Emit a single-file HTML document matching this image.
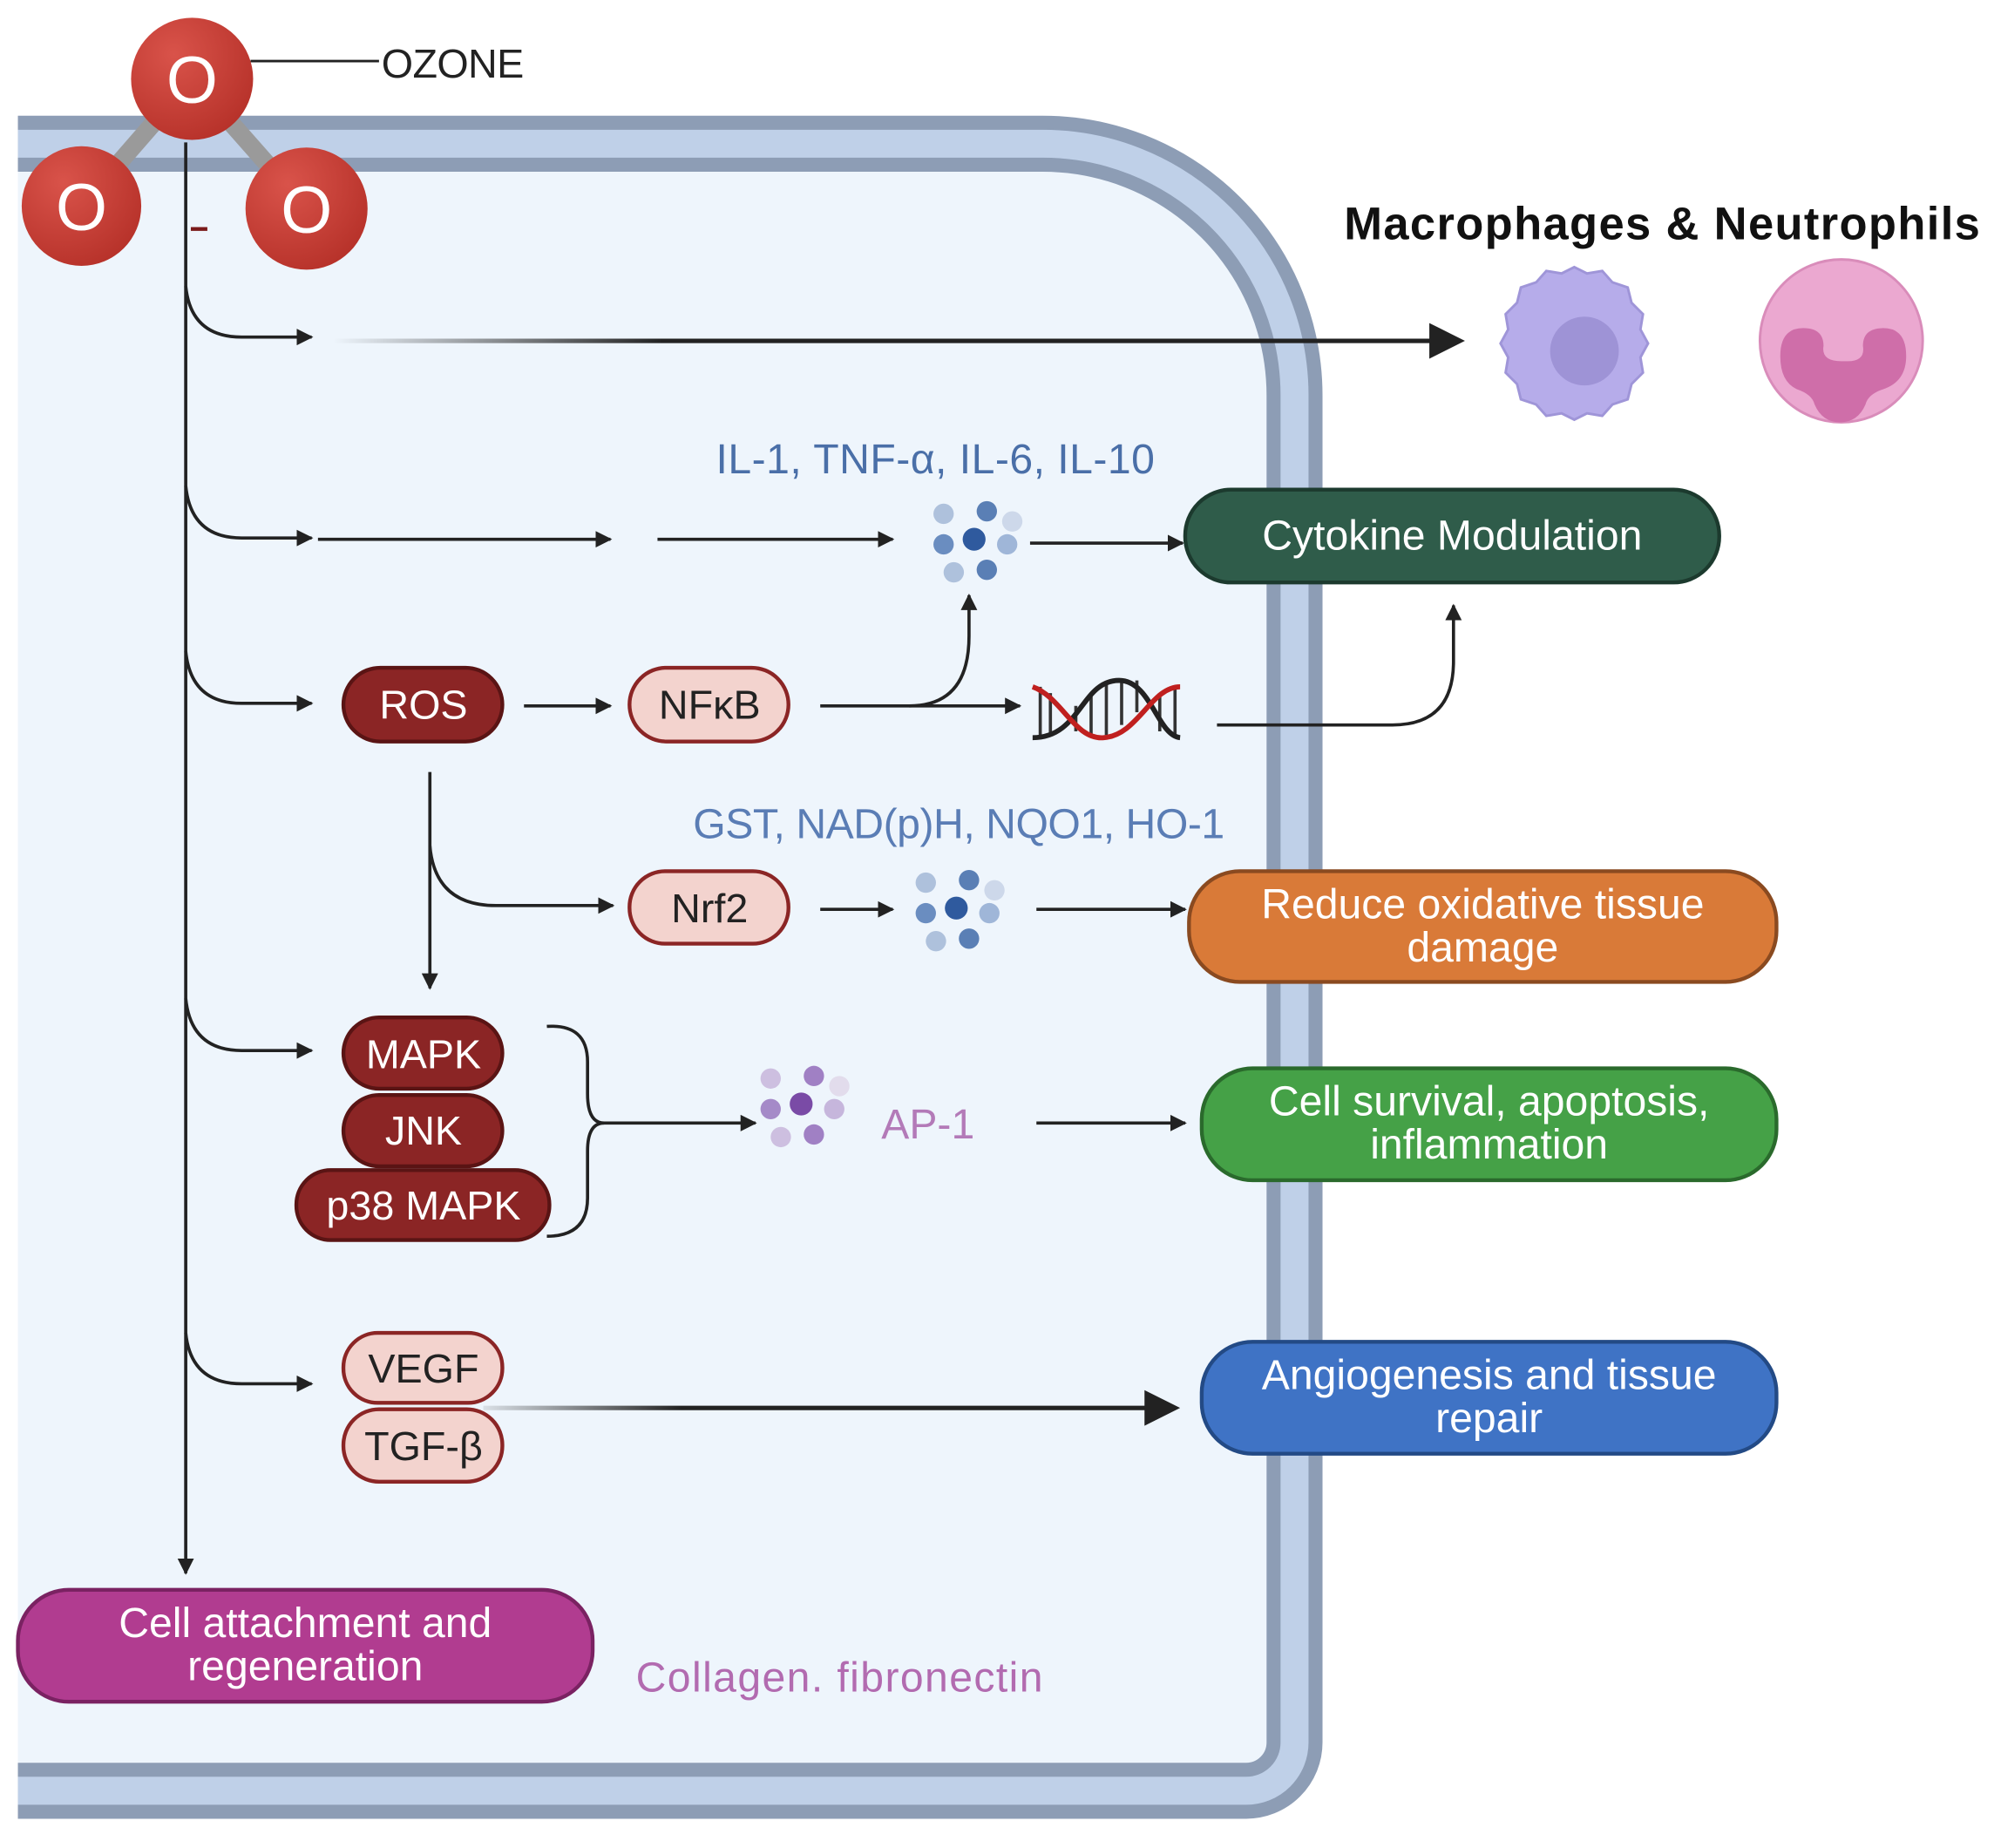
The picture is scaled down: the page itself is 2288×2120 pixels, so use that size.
<!DOCTYPE html>
<html><head><meta charset="utf-8"><style>
html,body{margin:0;padding:0;background:#fff;}
svg{display:block;}
text{font-family:"Liberation Sans",sans-serif;}
</style></head><body>
<svg width="2288" height="2120" viewBox="0 0 1568 1453" xmlns="http://www.w3.org/2000/svg">
<defs>
<marker id="ah" viewBox="0 0 10 10" refX="9" refY="5" markerWidth="13" markerHeight="13" orient="auto" markerUnits="userSpaceOnUse"><path d="M0,0 L10,5 L0,10 z" fill="#222"/></marker>
<linearGradient id="fade1" gradientUnits="userSpaceOnUse" x1="262" y1="0" x2="1125" y2="0"><stop offset="0" stop-color="#222" stop-opacity="0"/><stop offset="0.3" stop-color="#222"/><stop offset="1" stop-color="#222"/></linearGradient>
<linearGradient id="fade2" gradientUnits="userSpaceOnUse" x1="380" y1="0" x2="900" y2="0"><stop offset="0" stop-color="#222" stop-opacity="0.1"/><stop offset="0.3" stop-color="#222"/><stop offset="1" stop-color="#222"/></linearGradient>
<radialGradient id="ball" cx="0.35" cy="0.3" r="0.75"><stop offset="0" stop-color="#d9534a"/><stop offset="1" stop-color="#b7322a"/></radialGradient>
</defs>
<rect width="1568" height="1453" fill="#fff"/>
<path d="M14 113 H820 A198 198 0 0 1 1018 311 V1370 A38 38 0 0 1 980 1408 H14 Z" fill="#eef5fc"/>
<path d="M14 113 H820 A198 198 0 0 1 1018 311 V1370 A38 38 0 0 1 980 1408 H14" fill="none" stroke="#8d9db5" stroke-width="44"/>
<path d="M14 113 H820 A198 198 0 0 1 1018 311 V1370 A38 38 0 0 1 980 1408 H14" fill="none" stroke="#bfd0e8" stroke-width="22"/>

<line x1="151" y1="62" x2="64" y2="162" stroke="#9a9a9a" stroke-width="14"/>
<line x1="151" y1="62" x2="241" y2="164" stroke="#9a9a9a" stroke-width="14"/>
<line x1="197" y1="48" x2="298" y2="48" stroke="#222" stroke-width="2"/>
<text x="300" y="61" font-size="32" fill="#222" textLength="112">OZONE</text>
<g font-size="52" fill="#fff" text-anchor="middle">
<circle cx="151" cy="62" r="48" fill="url(#ball)"/><text x="151" y="81">O</text>
<circle cx="64" cy="162" r="47" fill="url(#ball)"/><text x="64" y="181">O</text>
<circle cx="241" cy="164" r="48" fill="url(#ball)"/><text x="241" y="183">O</text>
</g>
<line x1="150" y1="180" x2="163" y2="180" stroke="#7a1a1a" stroke-width="3"/>

<g fill="none" stroke="#222" stroke-width="2.5">
<line x1="146" y1="112" x2="146" y2="1237" marker-end="url(#ah)"/>
<path d="M146 225 Q150 265 190 265 H245" marker-end="url(#ah)"/>
<path d="M146 382 Q150 423 190 423 H245" marker-end="url(#ah)"/>
<path d="M146 512 Q150 553 190 553 H245" marker-end="url(#ah)"/>
<path d="M146 785 Q150 826 190 826 H245" marker-end="url(#ah)"/>
<path d="M146 1048 Q150 1088 190 1088 H245" marker-end="url(#ah)"/>
<line x1="250" y1="424" x2="480" y2="424" marker-end="url(#ah)"/>
<line x1="517" y1="424" x2="702" y2="424" marker-end="url(#ah)"/>
<line x1="810" y1="427" x2="930" y2="427" marker-end="url(#ah)"/>
<line x1="412" y1="555" x2="480" y2="555" marker-end="url(#ah)"/>
<line x1="645" y1="555" x2="802" y2="555" marker-end="url(#ah)"/>
<path d="M715 555 Q762 555 762 500 V468" marker-end="url(#ah)"/>
<path d="M957 570 H1095 Q1143 570 1143 520 V476" marker-end="url(#ah)"/>
<line x1="338" y1="607" x2="338" y2="777" marker-end="url(#ah)"/>
<path d="M338 665 Q342 712 390 712 H482" marker-end="url(#ah)"/>
<line x1="645" y1="715" x2="702" y2="715" marker-end="url(#ah)"/>
<line x1="815" y1="715" x2="932" y2="715" marker-end="url(#ah)"/>
<path d="M430 807 Q462 805 462 835 V860 Q462 883 475 883 M430 972 Q462 972 462 942 V905 Q462 883 475 883"/>
<line x1="470" y1="883" x2="594" y2="883" marker-end="url(#ah)"/>
<line x1="815" y1="883" x2="932" y2="883" marker-end="url(#ah)"/>
</g>
<line x1="262" y1="268" x2="1126" y2="268" stroke="url(#fade1)" stroke-width="3.5"/>
<path d="M1124 254 L1152 268 L1124 282 Z" fill="#222"/>
<line x1="380" y1="1107" x2="901" y2="1107" stroke="url(#fade2)" stroke-width="3.5"/>
<path d="M900 1093 L928 1107 L900 1121 Z" fill="#222"/>

<text x="1057" y="188" font-size="36" font-weight="bold" fill="#111" textLength="500">Macrophages &amp; Neutrophils</text>
<path d="M1238 210 l10 5 l12 -2 l8 9 l12 4 l3 12 l9 9 l-2 12 l6 11 l-6 11 l2 12 l-9 9 l-3 12 l-12 4 l-8 9 l-12 -2 l-10 5 l-10 -5 l-12 2 l-8 -9 l-12 -4 l-3 -12 l-9 -9 l2 -12 l-6 -11 l6 -11 l-2 -12 l9 -9 l3 -12 l12 -4 l8 -9 l12 2 z" fill="#b6acea" stroke="#9f95d8" stroke-width="2"/>
<circle cx="1246" cy="276" r="27" fill="#9e93d6"/>
<circle cx="1448" cy="268" r="64" fill="#eba8d0" stroke="#d98cba" stroke-width="2"/>
<path d="M1400 280 q0 -22 18 -22 q16 0 16 14 q-2 12 14 12 h5 q14 0 12 -12 q0 -14 16 -14 q18 0 18 22 q0 20 -18 26 q-12 4 -14 12 q-6 14 -20 14 q-14 0 -20 -14 q-2 -8 -14 -12 q-13 -6 -13 -26 z" fill="#cf6ea9"/>

<g>
<circle cx="742" cy="404" r="8" fill="#aec1dc"/><circle cx="776" cy="402" r="8" fill="#5a7fb5"/><circle cx="796" cy="410" r="8" fill="#cdd8ea"/>
<circle cx="742" cy="428" r="8" fill="#6a8dc0"/><circle cx="766" cy="424" r="9" fill="#2f5a9e"/><circle cx="792" cy="428" r="8" fill="#9fb6d8"/>
<circle cx="750" cy="450" r="8" fill="#aec1dc"/><circle cx="776" cy="448" r="8" fill="#5a7fb5"/>
</g>
<g transform="translate(-14,290)">
<circle cx="742" cy="404" r="8" fill="#aec1dc"/><circle cx="776" cy="402" r="8" fill="#5a7fb5"/><circle cx="796" cy="410" r="8" fill="#cdd8ea"/>
<circle cx="742" cy="428" r="8" fill="#6a8dc0"/><circle cx="766" cy="424" r="9" fill="#2f5a9e"/><circle cx="792" cy="428" r="8" fill="#9fb6d8"/>
<circle cx="750" cy="450" r="8" fill="#aec1dc"/><circle cx="776" cy="448" r="8" fill="#5a7fb5"/>
</g>
<g transform="translate(-136,444)">
<circle cx="742" cy="404" r="8" fill="#cdbfe0"/><circle cx="776" cy="402" r="8" fill="#a080c4"/><circle cx="796" cy="410" r="8" fill="#e2dcec"/>
<circle cx="742" cy="428" r="8" fill="#a58ac8"/><circle cx="766" cy="424" r="9" fill="#7a4ba6"/><circle cx="792" cy="428" r="8" fill="#c6b6dc"/>
<circle cx="750" cy="450" r="8" fill="#cdbfe0"/><circle cx="776" cy="448" r="8" fill="#a080c4"/>
</g>

<g fill="none" stroke-width="4">
<g stroke="#333" stroke-width="2.5"><line x1="818" y1="540" x2="818" y2="578"/><line x1="826" y1="545" x2="826" y2="578"/><line x1="846" y1="555" x2="846" y2="575"/><line x1="858" y1="545" x2="858" y2="578"/><line x1="870" y1="537" x2="870" y2="578"/><line x1="882" y1="535" x2="882" y2="570"/><line x1="894" y1="535" x2="894" y2="560"/><line x1="912" y1="545" x2="912" y2="575"/><line x1="924" y1="540" x2="924" y2="578"/></g>
<path d="M812 580 C850 580 850 535 880 535 C905 535 910 578 928 580" stroke="#222"/>
<path d="M812 540 C835 548 845 582 868 580 C895 578 905 540 928 540" stroke="#c0201f"/>
</g>

<text x="563" y="372" font-size="33" fill="#4a6fa8" textLength="345">IL-1, TNF-α,  IL-6, IL-10</text>
<text x="545" y="659" font-size="33" fill="#5a7db5" textLength="418">GST, NAD(p)H, NQO1, HO-1</text>
<text x="693" y="895" font-size="33" fill="#b37ab8">AP-1</text>
<text x="500" y="1330" font-size="33" fill="#b26bb0" textLength="320">Collagen. fibronectin</text>

<g font-size="32" text-anchor="middle" stroke-width="3">
<rect x="270" y="525" width="125" height="58" rx="29" fill="#8b2525" stroke="#5a1414"/><text x="333" y="565" fill="#fff">ROS</text>
<rect x="495" y="525" width="125" height="58" rx="29" fill="#f3d3ce" stroke="#8b2525"/><text x="558" y="565" fill="#222">NFκB</text>
<rect x="495" y="685" width="125" height="57" rx="28" fill="#f3d3ce" stroke="#8b2525"/><text x="558" y="725" fill="#222">Nrf2</text>
<rect x="270" y="800" width="125" height="56" rx="28" fill="#8b2525" stroke="#5a1414"/><text x="333" y="840" fill="#fff">MAPK</text>
<rect x="270" y="861" width="125" height="56" rx="28" fill="#8b2525" stroke="#5a1414"/><text x="333" y="900" fill="#fff">JNK</text>
<rect x="233" y="920" width="199" height="55" rx="27" fill="#8b2525" stroke="#5a1414"/><text x="333" y="959" fill="#fff">p38 MAPK</text>
<rect x="270" y="1048" width="125" height="55" rx="27" fill="#f3d3ce" stroke="#8b2525"/><text x="333" y="1087" fill="#222">VEGF</text>
<rect x="270" y="1108" width="125" height="57" rx="28" fill="#f3d3ce" stroke="#8b2525"/><text x="333" y="1148" fill="#222">TGF-β</text>
</g>

<g font-size="33" text-anchor="middle" fill="#fff" stroke-width="3">
<rect x="932" y="385" width="420" height="73" rx="36" fill="#2f5c4a" stroke="#1c3a2e"/>
<text x="1142" y="432" fill="#fff">Cytokine Modulation</text>
<rect x="935" y="685" width="462" height="87" rx="40" fill="#d97a38" stroke="#8a4a20"/>
<text x="1166" y="722" fill="#fff">Reduce oxidative tissue</text><text x="1166" y="756" fill="#fff">damage</text>
<rect x="945" y="840" width="452" height="88" rx="40" fill="#45a147" stroke="#2a6a2c"/>
<text x="1171" y="877" fill="#fff">Cell survival, apoptosis,</text><text x="1171" y="911" fill="#fff">inflammation</text>
<rect x="945" y="1055" width="452" height="88" rx="40" fill="#3f73c5" stroke="#234a85"/>
<text x="1171" y="1092" fill="#fff">Angiogenesis and tissue</text><text x="1171" y="1126" fill="#fff">repair</text>
<rect x="14" y="1250" width="452" height="88" rx="40" fill="#b13c90" stroke="#7a2262"/>
<text x="240" y="1287" fill="#fff">Cell attachment and</text><text x="240" y="1321" fill="#fff">regeneration</text>
</g>
</svg>
</body></html>
